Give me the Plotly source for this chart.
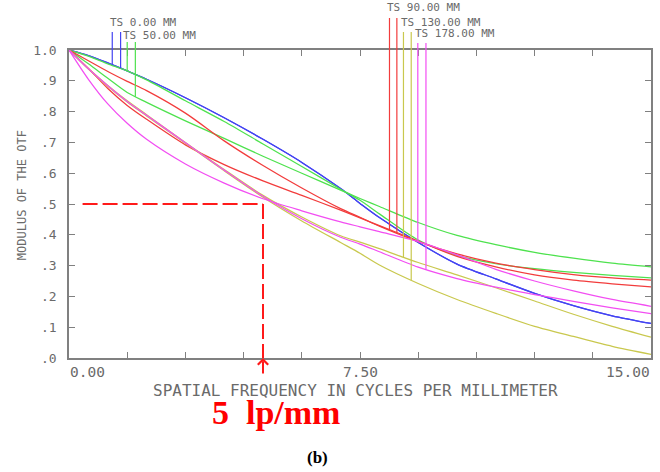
import numpy as np
import plotly.graph_objects as go

# ---------------- data ----------------
freq = [0, 0.5, 1, 1.5, 2, 3, 4, 5, 6, 7, 7.5, 8, 9, 10, 11, 12, 13, 14, 15]

blue_T = [1.0, 0.982, 0.958, 0.932, 0.905, 0.845, 0.780, 0.710, 0.635, 0.550, 0.502, 0.456, 0.375, 0.305, 0.257, 0.210, 0.170, 0.137, 0.112]
blue_S = [1.0, 0.982, 0.958, 0.932, 0.905, 0.845, 0.780, 0.710, 0.635, 0.550, 0.502, 0.456, 0.375, 0.305, 0.257, 0.210, 0.170, 0.137, 0.112]
green_T = [1.0, 0.980, 0.955, 0.932, 0.903, 0.835, 0.768, 0.695, 0.622, 0.548, 0.512, 0.468, 0.383, 0.333, 0.306, 0.290, 0.278, 0.268, 0.260]
green_S = [1.0, 0.955, 0.908, 0.862, 0.830, 0.770, 0.713, 0.655, 0.600, 0.545, 0.518, 0.492, 0.440, 0.398, 0.368, 0.343, 0.324, 0.308, 0.296]
red_T = [1.0, 0.965, 0.930, 0.898, 0.868, 0.795, 0.705, 0.625, 0.552, 0.485, 0.457, 0.428, 0.378, 0.338, 0.308, 0.287, 0.271, 0.260, 0.253]
red_S = [1.0, 0.940, 0.875, 0.820, 0.775, 0.692, 0.628, 0.575, 0.528, 0.480, 0.455, 0.430, 0.380, 0.330, 0.296, 0.270, 0.253, 0.241, 0.231]
yellow_T = [1.0, 0.940, 0.885, 0.835, 0.790, 0.700, 0.612, 0.528, 0.458, 0.397, 0.376, 0.355, 0.310, 0.270, 0.228, 0.185, 0.142, 0.103, 0.068]
yellow_S = [1.0, 0.938, 0.882, 0.831, 0.786, 0.697, 0.608, 0.522, 0.445, 0.375, 0.340, 0.302, 0.242, 0.190, 0.145, 0.103, 0.070, 0.038, 0.012]
magenta_T = [1.0, 0.905, 0.825, 0.762, 0.710, 0.630, 0.568, 0.517, 0.478, 0.442, 0.426, 0.410, 0.378, 0.335, 0.288, 0.250, 0.218, 0.190, 0.168]
magenta_S = [1.0, 0.939, 0.884, 0.833, 0.788, 0.699, 0.610, 0.525, 0.452, 0.392, 0.370, 0.345, 0.295, 0.258, 0.230, 0.206, 0.184, 0.163, 0.144]

field_labels = ["TS 0.00 MM", "TS 50.00 MM", "TS 90.00 MM", "TS 130.00 MM", "TS 178.00 MM"]
# frequencies where the legend drop-lines meet each curve
legend_freq_T = [1.115, 1.50, 8.26, 8.62, 8.99]
legend_freq_S = [1.33, 1.71, 8.45, 8.82, 9.20]

x_tick_vals = [0, 1.5, 3, 4.5, 6, 7.5, 9, 10.5, 12, 13.5, 15]
x_tick_labels = ["0.00", "7.50", "15.00"]
x_label_vals = [0, 7.5, 15]
y_tick_vals = [0, 0.1, 0.2, 0.3, 0.4, 0.5, 0.6, 0.7, 0.8, 0.9, 1.0]
y_tick_text = [".0", ".1", ".2", ".3", ".4", ".5", ".6", ".7", ".8", ".9", "1.0"]

ref_freq = 5.0   # 5 lp/mm
ref_mtf = 0.5
ref_start = 0.35

# ---------------- layout helpers ----------------
W, H = 660, 472
# plot area in window pixels: x 69..653, y 50..358
L, R, T, B = 69, W - 653, 50, H - 358
PW, PH = W - L - R, H - T - B


def pxx(xp):
    # window pixel x -> paper x
    return (xp - L) / PW


def pxy(yp):
    # window pixel y -> paper y
    return (H - B - yp) / PH


colors = ["#4444f2", "#4ee24e", "#f23c3c", "#c9c84e", "#f24ef2"]
curves_T = [blue_T, green_T, red_T, yellow_T, magenta_T]
curves_S = [blue_S, green_S, red_S, yellow_S, magenta_S]
label_pos = [(109, 22), (122, 35), (387, 8), (401, 22), (415, 34)]
drop_top = [32, 42, 18, 32, 43]

grey = "#6a6a6a"
mono = "DejaVu Sans Mono, monospace"

fig = go.Figure()
for cT, cS, col in zip(curves_T, curves_S, colors):
    for c in (cT, cS):
        fig.add_trace(go.Scatter(x=freq, y=c, mode="lines",
                                 line=dict(color=col, width=1.25, shape="spline", smoothing=0.8),
                                 showlegend=False, hoverinfo="skip"))

shapes = []
for i, col in enumerate(colors):
    for f, c in ((legend_freq_T[i], curves_T[i]), (legend_freq_S[i], curves_S[i])):
        yv = float(np.interp(f, freq, c))
        shapes.append(dict(type="line", xref="x", yref="paper", x0=f, x1=f,
                           y0=yv, y1=pxy(drop_top[i]), line=dict(color=col, width=1.2)))

# red reference lines
shapes.append(dict(type="line", xref="x", yref="y", x0=ref_start, x1=ref_freq, y0=ref_mtf, y1=ref_mtf,
                   line=dict(color="#ff1a1a", width=2, dash="15px,5px")))
shapes.append(dict(type="line", xref="x", yref="y", x0=ref_freq, x1=ref_freq, y0=ref_mtf, y1=0,
                   line=dict(color="#ff1a1a", width=2, dash="15px,5px")))

annotations = []
for lab, (lx, ly) in zip(field_labels, label_pos):
    annotations.append(dict(text=lab, xref="paper", yref="paper", x=pxx(lx), y=pxy(ly),
                            xanchor="left", yanchor="middle", showarrow=False, borderpad=0,
                            font=dict(family=mono, size=11, color=grey)))

anchors = ["left", "center", "right"]
for v, t, a in zip(x_label_vals, x_tick_labels, anchors):
    annotations.append(dict(text=t, xref="x", yref="paper", x=v, y=pxy(372),
                            xanchor=a, yanchor="middle", showarrow=False, borderpad=0,
                            font=dict(family=mono, size=14.5, color=grey)))

annotations.append(dict(text="SPATIAL FREQUENCY IN CYCLES PER MILLIMETER", xref="paper", yref="paper",
                        x=pxx(356), y=pxy(390), xanchor="center", yanchor="middle", showarrow=False,
                        borderpad=0, font=dict(family=mono, size=16, color=grey)))
annotations.append(dict(text="MODULUS OF THE OTF", xref="paper", yref="paper",
                        x=pxx(22), y=pxy(195), xanchor="center", yanchor="middle", showarrow=False,
                        textangle=-90, font=dict(family=mono, size=12, color=grey)))

# arrow at 5 lp/mm
annotations.append(dict(text="", xref="x", yref="y", x=ref_freq, y=0, ax=0, ay=17,
                        showarrow=True, arrowhead=4, arrowwidth=2, arrowsize=1,
                        arrowcolor="#ff1a1a", standoff=0))
annotations.append(dict(text="<b>5\u2002lp/mm</b>", xref="paper", yref="paper",
                        x=pxx(277), y=pxy(412), xanchor="center", yanchor="middle", showarrow=False,
                        borderpad=0,
                        font=dict(family="Liberation Serif, Times New Roman, serif", size=34, color="#ff0000")))
annotations.append(dict(text="<b>(b)</b>", xref="paper", yref="paper",
                        x=pxx(318), y=pxy(457), xanchor="center", yanchor="middle", showarrow=False,
                        font=dict(family="Liberation Serif, Times New Roman, serif", size=17, color="#000000")))

axis_common = dict(showline=True, linecolor="#808080", linewidth=1.5, mirror="ticks",
                   ticks="inside", ticklen=6, tickwidth=1.3, tickcolor="#808080",
                   showgrid=False, zeroline=False)

fig.update_layout(
    width=W, height=H,
    margin=dict(l=L, r=R, t=T, b=B, pad=0),
    paper_bgcolor="white", plot_bgcolor="white",
    showlegend=False,
    xaxis=dict(range=[0, 15], tickvals=x_tick_vals, showticklabels=False, **axis_common),
    yaxis=dict(range=[0, 1], tickvals=y_tick_vals, ticktext=y_tick_text,
               ticklabelstandoff=8,
               tickfont=dict(family=mono, size=13, color=grey), **axis_common),
    shapes=shapes,
    annotations=annotations,
)

# remove the default 8px page margin so the 660x472 figure fills the window exactly
fig.write_html("out.html", config={"displayModeBar": False},
               post_script="document.body.style.margin='0px';")
